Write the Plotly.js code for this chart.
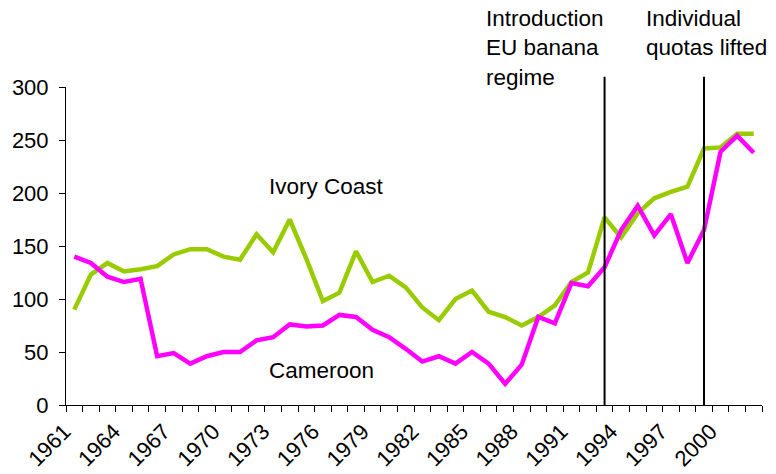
<!DOCTYPE html>
<html>
<head>
<meta charset="utf-8">
<script src="https://cdn.plot.ly/plotly-3.0.1.min.js"></script>
<style>html,body{margin:0;padding:0;background:#fff;}#chart{width:776px;height:474px;}</style>
</head>
<body>
<div id="chart"></div>
<script>
const years = [1961,1962,1963,1964,1965,1966,1967,1968,1969,1970,1971,1972,1973,1974,1975,1976,1977,1978,1979,1980,1981,1982,1983,1984,1985,1986,1987,1988,1989,1990,1991,1992,1993,1994,1995,1996,1997,1998,1999,2000,2001,2002];
const ivoryCoast = [90,123,134,126,128,131,142,147,147,140,137,161,144,175,138,98,106,145,116,122,111,92,80,100,108,88,83,75,83,94,116,125,177,158,181,195,201,206,242,243,256,256];
const cameroon = [140,134,121,116,119,46,49,39,46,50,50,61,64,76,74,75,85,83,71,64,53,41,46,39,50,39,20,38,83,77,115,112,130,165,188,160,180,134,165,239,254,238];
const tickYears = [1961,1964,1967,1970,1973,1976,1979,1982,1985,1988,1991,1994,1997,2000];
const tickLabels = tickYears.map(String);
const boundaries = years.map(y => y - 0.5).concat([years[years.length-1] + 0.5]);
const eventYears = [1993, 1999];

const font = {family: 'Liberation Sans, Arial, sans-serif', size: 22, color: '#000'};
const annFont = {family: 'Liberation Sans, Arial, sans-serif', size: 22.5, color: '#000'};

const traces = [
  {x: years, y: ivoryCoast, type: 'scatter', mode: 'lines', name: 'Ivory Coast',
   line: {color: '#99CC00', width: 4.5}},
  {x: years, y: cameroon, type: 'scatter', mode: 'lines', name: 'Cameroon',
   line: {color: '#FF00FF', width: 4.5}}
];

const layout = {
  width: 776, height: 474,
  margin: {l: 66, r: 14, t: 87, b: 69},
  paper_bgcolor: '#fff', plot_bgcolor: '#fff',
  showlegend: false,
  font: font,
  xaxis: {
    range: [1960.5, 2002.5],
    tickmode: 'array', tickvals: tickYears, ticktext: tickLabels,
    tickangle: -45, ticks: '',
    ticklabelshift: -10, ticklabelstandoff: 4,
    showline: true, linecolor: '#000', linewidth: 1,
    showgrid: false, zeroline: false,
    tickfont: font,
    minor: {tickmode: 'array', tickvals: boundaries, ticks: 'outside', ticklen: 6, tickwidth: 1, tickcolor: '#000', showgrid: false}
  },
  yaxis: {
    range: [0, 300],
    tickmode: 'array', tickvals: [0,50,100,150,200,250,300],
    ticks: 'outside', ticklen: 6, tickwidth: 1, tickcolor: '#000',
    showline: true, linecolor: '#000', linewidth: 1,
    showgrid: false, zeroline: false,
    tickfont: font, ticklabelstandoff: 6
  },
  shapes: eventYears.map(yr => ({
    type: 'line', xref: 'x', yref: 'paper', x0: yr, x1: yr, y0: 0, y1: 1.032,
    line: {color: '#000', width: 2}
  })),
  annotations: [
    {text: 'Ivory Coast', xref: 'x', yref: 'y', x: 1972.6, y: 206.5, xanchor: 'left', yanchor: 'middle', showarrow: false, font: annFont},
    {text: 'Cameroon', xref: 'x', yref: 'y', x: 1972.6, y: 33, xanchor: 'left', yanchor: 'middle', showarrow: false, font: annFont},
    {text: 'Introduction<br>EU banana<br>regime', xref: 'x', yref: 'paper', x: 1985.75, y: 1.26, xanchor: 'left', yanchor: 'top', align: 'left', showarrow: false, font: annFont},
    {text: 'Individual<br>quotas lifted', xref: 'x', yref: 'paper', x: 1995.4, y: 1.26, xanchor: 'left', yanchor: 'top', align: 'left', showarrow: false, font: annFont}
  ]
};

Plotly.newPlot('chart', traces, layout, {displayModeBar: false, staticPlot: true});
</script>
</body>
</html>
